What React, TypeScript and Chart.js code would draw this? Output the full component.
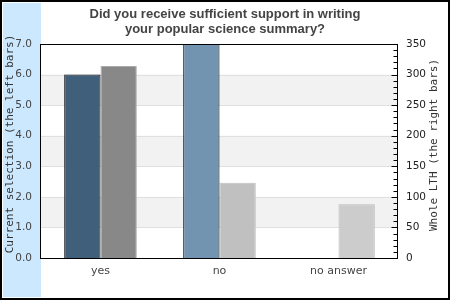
import React, { useEffect, useRef } from "react";
import { Chart, registerables } from "chart.js";

Chart.register(...registerables);

const categories = ["yes", "no", "no answer"];
const currentSelection = [6.0, 7.0, 0];
const wholeLTH = [314, 123, 88];
const leftTicks = [0, 1, 2, 3, 4, 5, 6, 7];
const rightTicks = [0, 50, 100, 150, 200, 250, 300, 350];
const titleLines = ["Did you receive sufficient support in writing", "your popular science summary?"];
const leftAxisTitle = "Current selection (the left bars)";
const rightAxisTitle = "Whole LTH (the right bars)";

const decorPlugin = {
  id: "decor",
  beforeDraw(chart: any) {
    const ctx = chart.ctx;
    const { left, right, top, bottom } = chart.chartArea;
    const y = chart.scales.y;
    ctx.save();
    ctx.fillStyle = "#ffffff";
    ctx.fillRect(0, 0, chart.width, chart.height);
    ctx.fillStyle = "#cce8ff";
    ctx.fillRect(3, 3, left - 3, chart.height - 6);
    for (let i = 0; i < leftTicks.length - 1; i++) {
      if (i % 2 === 1) {
        const y0 = y.getPixelForValue(leftTicks[i]);
        const y1 = y.getPixelForValue(leftTicks[i + 1]);
        ctx.fillStyle = "#f2f2f2";
        ctx.fillRect(left, y1, right - left, y0 - y1);
      }
    }
    ctx.strokeStyle = "#e0e0e0";
    ctx.lineWidth = 1;
    for (let i = 1; i < leftTicks.length - 1; i++) {
      const py = Math.round(y.getPixelForValue(leftTicks[i])) + 0.5;
      ctx.beginPath();
      ctx.moveTo(left, py);
      ctx.lineTo(right, py);
      ctx.stroke();
    }
    ctx.restore();
  },
  afterDraw(chart: any) {
    const ctx = chart.ctx;
    const { left, right, top, bottom } = chart.chartArea;
    const y1 = chart.scales.y1;
    ctx.save();
    ctx.strokeStyle = "#000";
    ctx.lineWidth = 1;
    ctx.strokeRect(Math.round(left) - 0.5, Math.round(top) + 0.5, Math.round(right - left), Math.round(bottom - top));
    for (let v = 0; v <= rightTicks[rightTicks.length - 1]; v += 10) {
      const py = Math.round(y1.getPixelForValue(v)) + 0.5;
      const len = v % 50 === 0 ? 6 : 4;
      ctx.beginPath();
      ctx.moveTo(Math.round(right) - 0.5, py);
      ctx.lineTo(Math.round(right) - 0.5 - len, py);
      ctx.stroke();
    }
    ctx.fillStyle = "#333";
    ctx.font = "11px 'DejaVu Sans Mono'";
    ctx.textAlign = "center";
    ctx.textBaseline = "middle";
    ctx.save();
    ctx.translate(10, 144);
    ctx.rotate(-Math.PI / 2);
    ctx.fillText(leftAxisTitle, 0, 0);
    ctx.restore();
    ctx.save();
    ctx.translate(434, 145);
    ctx.rotate(-Math.PI / 2);
    ctx.fillText(rightAxisTitle, 0, 0);
    ctx.restore();
    ctx.lineWidth = 2;
    ctx.strokeStyle = "#000";
    ctx.strokeRect(1, 1, chart.width - 2, chart.height - 2);
    ctx.restore();
  },
};

export default function App() {
  const ref = useRef<HTMLCanvasElement | null>(null);
  useEffect(() => {
    document.body.style.margin = "0";
    const chart = new Chart(ref.current as HTMLCanvasElement, {
      type: "bar",
      data: {
        labels: categories,
        datasets: [
          {
            label: "Current selection",
            data: currentSelection,
            yAxisID: "y",
            backgroundColor: ["#3f5f7a", "#7294b0", "#7294b0"],
            borderColor: "#000000",
            borderWidth: 1,
            categoryPercentage: 0.61,
            barPercentage: 1,
          },
          {
            label: "Whole LTH",
            data: wholeLTH,
            yAxisID: "y1",
            backgroundColor: ["#888888", "#c0c0c0", "#cccccc"],
            borderColor: ["#aaaaaa", "#c0c0c0", "#bbbbbb"],
            borderWidth: 1,
            categoryPercentage: 0.61,
            barPercentage: 1,
          },
        ],
      },
      options: {
        responsive: false,
        animation: false,
        layout: { padding: 0 },
        plugins: {
          legend: { display: false },
          tooltip: { enabled: false },
          title: {
            display: true,
            text: titleLines,
            color: "#444",
            font: { family: "'Liberation Sans', Arial, sans-serif", size: 13, weight: "bold", lineHeight: 1.15 },
            padding: { top: 7, bottom: 7.1 },
          },
        },
        scales: {
          x: {
            grid: { display: false, drawTicks: false },
            border: { display: false },
            ticks: { color: "#444", font: { family: "'DejaVu Sans'", size: 11 }, padding: 7 },
            afterFit: (s: any) => { s.height = 42; },
          },
          y: {
            position: "left",
            min: 0,
            max: 7,
            grid: { display: false, drawTicks: false },
            border: { display: false },
            ticks: {
              stepSize: 1,
              color: "#444",
              font: { family: "'DejaVu Sans'", size: 10.5 },
              padding: 9,
              callback: (v: any) => Number(v).toFixed(1),
            },
            afterFit: (s: any) => { s.width = 41; },
          },
          y1: {
            position: "right",
            min: 0,
            max: 350,
            grid: { display: false, drawTicks: false },
            border: { display: false },
            ticks: {
              stepSize: 50,
              color: "#222",
              font: { family: "'DejaVu Sans'", size: 10.5 },
              padding: 8,
            },
            afterFit: (s: any) => { s.width = 52; },
          },
        },
      },
      plugins: [decorPlugin],
    });
    return () => chart.destroy();
  }, []);
  return <canvas ref={ref} width={450} height={300} style={{ display: "block" }} />;
}
